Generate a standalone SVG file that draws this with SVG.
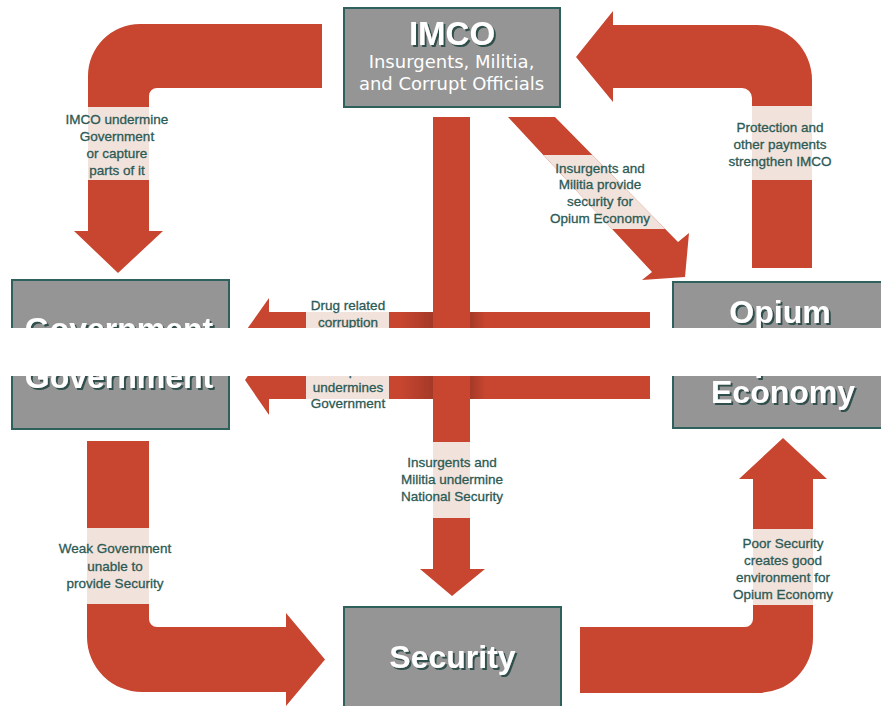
<svg xmlns="http://www.w3.org/2000/svg" xmlns:xlink="http://www.w3.org/1999/xlink" width="881" height="706" viewBox="0 0 881 706">
  <defs>
    <style>
      .arrow { fill: #c84630; }
      .band { fill: #f1e2db; }
      .lbl { font-family: "Liberation Sans", Arial, sans-serif; font-size: 13.5px; fill: #2c5a55; stroke: #2c5a55; stroke-width: 0.3; text-anchor: middle; }
      .box { fill: #959595; stroke: #2e615b; stroke-width: 2; }
      .title { font-family: "Liberation Sans", Arial, sans-serif; font-weight: bold; font-size: 32px; fill: #ffffff; text-anchor: middle; filter: url(#shadow); }
      .sub { font-family: "DejaVu Sans", sans-serif; font-size: 18px; fill: #ffffff; text-anchor: middle; }
    </style>
    <filter id="shadow" x="-10%" y="-20%" width="130%" height="150%">
      <feDropShadow dx="2" dy="2" stdDeviation="0.4" flood-color="#2e4f4b" flood-opacity="1"/>
    </filter>
    <linearGradient id="shadeL" x1="0" y1="0" x2="1" y2="0">
      <stop offset="0" stop-color="#000" stop-opacity="0"/>
      <stop offset="1" stop-color="#000" stop-opacity="0.18"/>
    </linearGradient>
    <linearGradient id="shadeR" x1="0" y1="0" x2="1" y2="0">
      <stop offset="0" stop-color="#000" stop-opacity="0.18"/>
      <stop offset="1" stop-color="#000" stop-opacity="0"/>
    </linearGradient>
  </defs>

  <rect x="0" y="0" width="881" height="706" fill="#ffffff"/>

  <g id="connectors">
    <!-- IMCO -> Government -->
    <g id="edge-imco-government">
      <path class="arrow" d="M322,24 L140,24 A52,52 0 0 0 88,76 L88,231 L74,231 L118,273 L163,231 L149,231 L149,96 A8,8 0 0 1 157,88 L322,88 Z"/>
      <rect class="band" x="88" y="107" width="61" height="73"/>
      <text class="lbl" x="117" y="124">IMCO undermine</text>
      <text class="lbl" x="117" y="141">Government</text>
      <text class="lbl" x="117" y="158">or capture</text>
      <text class="lbl" x="117" y="175">parts of it</text>
    </g>

    <!-- Opium Economy -> IMCO -->
    <g id="edge-opium-imco">
      <path class="arrow" d="M752,268 L752,98 A10,10 0 0 0 742,88 L613,88 L613,102 L576,57 L613,11 L613,25 L757,25 A55,55 0 0 1 812,80 L812,268 Z"/>
      <rect class="band" x="752" y="106" width="60" height="74"/>
      <text class="lbl" x="780" y="132">Protection and</text>
      <text class="lbl" x="780" y="149">other payments</text>
      <text class="lbl" x="780" y="165.5">strengthen IMCO</text>
    </g>

    <!-- IMCO -> Opium Economy (diagonal) -->
    <g id="edge-imco-opium">
      <polygon class="arrow" points="508,117 555,117 678,242 689,233 685,277 642,280 652,272"/>
      <polygon class="band" points="543.3,155 592.4,155 665.2,229 612,229"/>
      <text class="lbl" x="600" y="172.5">Insurgents and</text>
      <text class="lbl" x="600" y="189">Militia provide</text>
      <text class="lbl" x="600" y="206">security for</text>
      <text class="lbl" x="600" y="223">Opium Economy</text>
    </g>

    <!-- Opium Economy -> Government (horizontal, under the vertical) -->
    <g id="edge-opium-government">
      <polygon class="arrow" points="650,312 269,312 269,298 247.8,328 247.8,376 245,380 269,415 269,399 650,399"/>
      <rect x="400" y="312" width="33" height="87" fill="url(#shadeL)"/>
      <rect x="470" y="312" width="16" height="87" fill="url(#shadeR)"/>
      <rect class="band" x="306" y="312" width="83" height="87"/>
      <text class="lbl" x="348" y="309.5">Drug related</text>
      <text id="lbl-corruption" class="lbl" x="348" y="326.5">corruption</text>
      <use xlink:href="#lbl-corruption" href="#lbl-corruption" x="0" y="48"/>
      <text class="lbl" x="348" y="391.5">undermines</text>
      <text class="lbl" x="348" y="407.5">Government</text>
    </g>

    <!-- IMCO -> Security (vertical) -->
    <g id="edge-imco-security">
      <polygon class="arrow" points="433,117 470,117 470,569 485,569 452,596 420,569 433,569"/>
      <rect class="band" x="433" y="442" width="37" height="76"/>
      <text class="lbl" x="452" y="466.5">Insurgents and</text>
      <text class="lbl" x="452" y="483.5">Militia undermine</text>
      <text class="lbl" x="452" y="500.5">National Security</text>
    </g>

    <!-- Government -> Security -->
    <g id="edge-government-security">
      <path class="arrow" d="M87,441 L149,441 L149,619 A8,8 0 0 0 157,627 L286,627 L286,613 L325,659.5 L286,706 L286,692 L142,692 A55,55 0 0 1 87,637 Z"/>
      <rect class="band" x="87" y="528" width="62" height="76"/>
      <text class="lbl" x="115" y="553">Weak Government</text>
      <text class="lbl" x="115" y="570.5">unable to</text>
      <text class="lbl" x="115" y="588">provide Security</text>
    </g>

    <!-- Security -> Opium Economy -->
    <g id="edge-security-opium">
      <path class="arrow" d="M580,627 L745,627 A8,8 0 0 0 753,619 L753,479 L739,479 L783,438 L827,479 L813,479 L813,638 A55,55 0 0 1 758,693 L580,693 Z"/>
      <rect class="band" x="753" y="529" width="60" height="76"/>
      <text class="lbl" x="783" y="547.5">Poor Security</text>
      <text class="lbl" x="783" y="564.5">creates good</text>
      <text class="lbl" x="783" y="581.5">environment for</text>
      <text class="lbl" x="783" y="598.5">Opium Economy</text>
    </g>
  </g>

  <g id="node-imco">
    <rect class="box" x="344" y="8" width="216" height="99"/>
    <text class="title" x="452" y="45" style="font-size:33px">IMCO</text>
    <text class="sub" x="451.5" y="68">Insurgents, Militia,</text>
    <text class="sub" x="451.5" y="90">and Corrupt Officials</text>
  </g>

  <g id="node-government">
    <rect class="box" x="12" y="280" width="217" height="149"/>
    <text id="gov-title" class="title" x="119" y="340">Government</text>
    <use xlink:href="#gov-title" href="#gov-title" x="0" y="48"/>
  </g>

  <g id="node-opium">
    <rect class="box" x="673" y="282" width="220" height="146"/>
    <text id="opium-title" class="title" x="780" y="323">Opium</text>
    <use xlink:href="#opium-title" href="#opium-title" x="0" y="48"/>
    <text class="title" x="783" y="403">Economy</text>
  </g>

  <g id="node-security">
    <rect class="box" x="344" y="607" width="217" height="106"/>
    <text class="title" x="452.5" y="668">Security</text>
  </g>

  <rect id="gap" x="0" y="328" width="881" height="48" fill="#ffffff"/>
</svg>
